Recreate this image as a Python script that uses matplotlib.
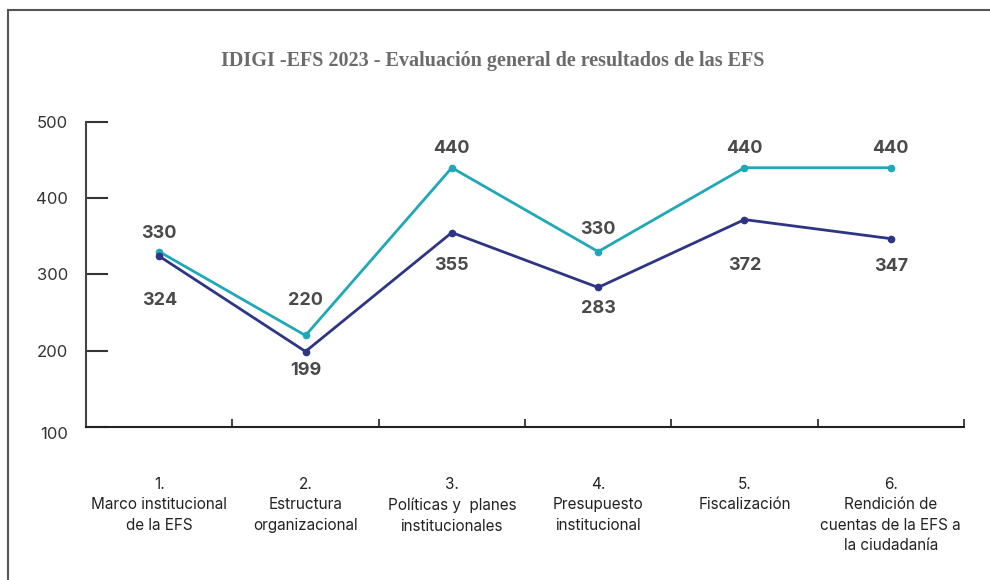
import matplotlib.pyplot as plt
from matplotlib.lines import Line2D

categories = ["1.\nMarco institucional\nde la EFS",
              "2.\nEstructura\norganizacional",
              "3.\nPolíticas y  planes\ninstitucionales",
              "4.\nPresupuesto\ninstitucional",
              "5.\nFiscalización",
              "6.\nRendición de\ncuentas de la EFS a\nla ciudadanía"]
serie_max = [330, 220, 440, 330, 440, 440]
serie_efs = [324, 199, 355, 283, 372, 347]
yticks = [100, 200, 300, 400, 500]

teal = "#1fa8b8"
navy = "#2e3584"
label_color = "#4a4a4a"

# label offsets in points (layout only)
off_max = [13, 25, 14, 16, 14, 14]
off_efs = [-32, -14, -24, -15, -33, -20]

plt.rcParams["font.family"] = ["Inter", "DejaVu Sans"]

fig = plt.figure(figsize=(9.9, 5.8), dpi=100)
ax = fig.add_axes([0.0869, 0.2638, 0.9737 - 0.0869, 0.7897 - 0.2638])

x = list(range(len(categories)))
ax.plot(x, serie_max, color=teal, lw=2, marker="o", ms=4.5, zorder=3)
ax.plot(x, serie_efs, color=navy, lw=2, marker="o", ms=4.5, zorder=3)

for i in x:
    ax.annotate(str(serie_max[i]), (i, serie_max[i]), xytext=(0, off_max[i]),
                textcoords="offset points", ha="center", va="center",
                fontsize=13, fontweight="bold", color=label_color)
    ax.annotate(str(serie_efs[i]), (i, serie_efs[i]), xytext=(0, off_efs[i]),
                textcoords="offset points", ha="center", va="center",
                fontsize=13, fontweight="bold", color=label_color)

ax.set_xlim(-0.5, 5.5)
ax.set_ylim(100, 500)
ax.set_yticks(yticks)
ax.tick_params(axis="y", direction="in", length=16, width=1.5, pad=13,
               labelsize=12, colors="#333333")
ax.get_yticklabels()[0].set_verticalalignment("top")
ax.set_xticks(x)
ax.set_xticklabels(categories, fontsize=11, color="#222222", linespacing=1.45)
ax.tick_params(axis="x", which="major", length=0, pad=36)
ax.set_xticks([i + 0.5 for i in x], minor=True)
ax.tick_params(axis="x", which="minor", direction="in", length=6, width=1.2, color="#222222")

for s in ["top", "right"]:
    ax.spines[s].set_visible(False)
ax.spines["left"].set_linewidth(1.5)
ax.spines["left"].set_color("#444444")
ax.spines["bottom"].set_linewidth(1.5)
ax.spines["bottom"].set_color("#222222")

fig.text(0.498, 0.895, "IDIGI -EFS 2023 - Evaluación general de resultados de las EFS",
         ha="center", va="center", fontsize=14.5, fontweight="bold",
         family="Liberation Serif", color="#6b6b6b")

# outer frame (left and top edges)
fig.add_artist(Line2D([0.0085, 0.0085], [0, 0.983], transform=fig.transFigure,
                      color="#555555", lw=1.5))
fig.add_artist(Line2D([0.0085, 1.0], [0.983, 0.983], transform=fig.transFigure,
                      color="#555555", lw=1.5))

fig.savefig("out.png", dpi=100)
